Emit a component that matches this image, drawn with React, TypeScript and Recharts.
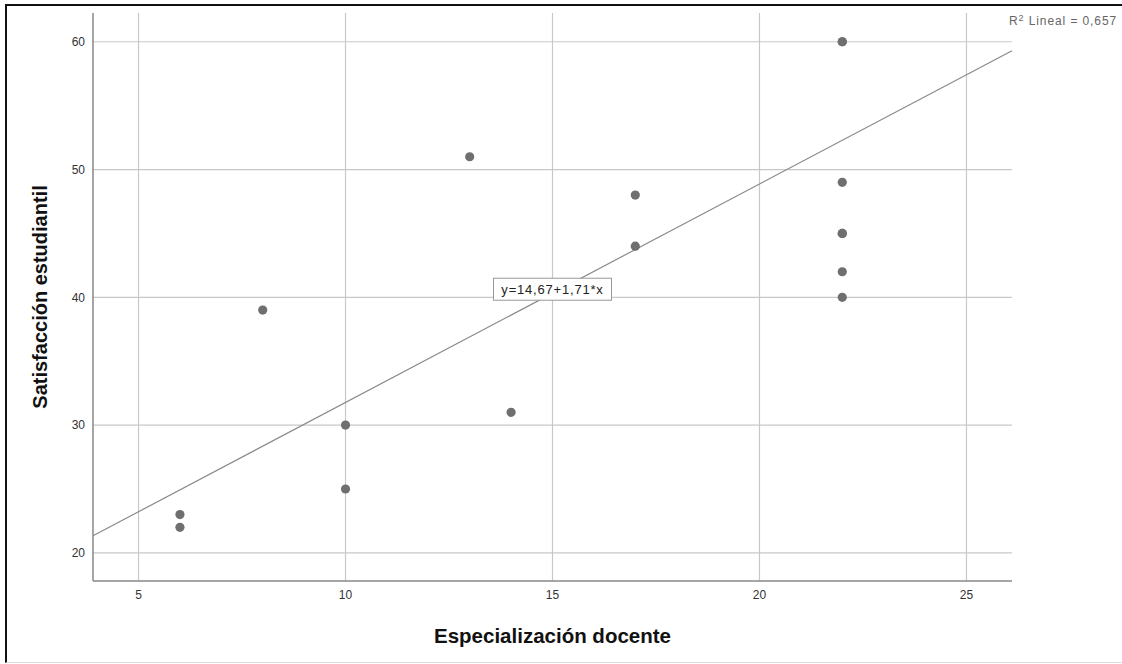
import React from 'react'
import {
  ScatterChart,
  Scatter,
  XAxis,
  YAxis,
  ReferenceLine,
  ReferenceDot,
  Label,
} from 'recharts'

// Especialización docente (x) vs Satisfacción estudiantil (y)
const especializacion = [6, 6, 8, 10, 10, 13, 14, 17, 17, 22, 22, 22, 22, 22, 22, 22]
const satisfaccion = [23, 22, 39, 30, 25, 51, 31, 48, 44, 60, 60, 49, 45, 45, 42, 40]

const xTicks = [5, 10, 15, 20, 25]
const yTicks = [20, 30, 40, 50, 60]

const X_MIN = 3.9
const X_MAX = 26.1
const Y_MIN = 17.8
const Y_MAX = 62.25

// linear fit reported by SPSS
const INTERCEPT = 14.67
const SLOPE = 1.71
const fitLabel = 'y=14,67+1,71*x'
const r2Value = '0,657'

const fit = (x: number) => INTERCEPT + SLOPE * x

const points = especializacion.map((x, i) => ({ x, y: satisfaccion[i] }))

const FONT = '"Liberation Sans", Arial, sans-serif'
const GRID = '#c8c8c8'

const Dot = (props: any) => (
  <circle cx={props.cx} cy={props.cy} r={4.6} fill="#6f6f6f" />
)

const FitBox = (props: any) => {
  const w = 118
  const h = 22
  const cy = props.cy - 4
  return (
    <g>
      <rect
        x={props.cx - w / 2}
        y={cy - h / 2}
        width={w}
        height={h}
        fill="#fff"
        stroke="#999"
        strokeWidth={1}
      />
      <text
        x={props.cx}
        y={cy + 4.5}
        textAnchor="middle"
        fontSize={13}
        letterSpacing={0.8}
        fill="#222"
        fontFamily={FONT}
      >
        {fitLabel}
      </text>
    </g>
  )
}

export default function App() {
  return (
    <div
      style={{
        position: 'absolute',
        left: 0,
        top: 0,
        width: 1122,
        height: 664,
        background: '#fff',
        overflow: 'hidden',
        fontFamily: FONT,
      }}
    >
      <div
        style={{
          position: 'absolute',
          left: 5,
          top: 4,
          width: 1130,
          height: 656,
          borderLeft: '2px solid #111',
          borderTop: '2px solid #111',
          borderBottom: '1px solid #ddd',
        }}
      />
      <div style={{ position: 'absolute', left: 0, top: 0 }}>
        <ScatterChart
          width={1122}
          height={664}
          margin={{ top: 13, right: 110, bottom: 0, left: 0 }}
        >
          {xTicks.map((t) => (
            <ReferenceLine key={'vx' + t} x={t} stroke={GRID} strokeWidth={1.2} />
          ))}
          {yTicks.map((t) => (
            <ReferenceLine key={'hy' + t} y={t} stroke={GRID} strokeWidth={1.2} />
          ))}
          <XAxis
            type="number"
            dataKey="x"
            domain={[X_MIN, X_MAX]}
            ticks={xTicks}
            allowDataOverflow
            height={83}
            tickLine={false}
            tickMargin={3}
            axisLine={{ stroke: '#888', strokeWidth: 1.5 }}
            tick={{ fill: '#333', fontSize: 12, fontFamily: FONT }}
          >
            <Label
              content={(p: any) => {
                const vb = p.viewBox
                return (
                  <text
                    x={vb.x + vb.width / 2}
                    y={vb.y + 62}
                    textAnchor="middle"
                    fontSize={20.5}
                    fontWeight="bold"
                    fill="#111"
                    fontFamily={FONT}
                  >
                    Especialización docente
                  </text>
                )
              }}
            />
          </XAxis>
          <YAxis
            type="number"
            dataKey="y"
            domain={[Y_MIN, Y_MAX]}
            ticks={yTicks}
            allowDataOverflow
            width={93}
            tickLine={false}
            tickMargin={2}
            axisLine={{ stroke: '#888', strokeWidth: 1.5 }}
            tick={{ fill: '#333', fontSize: 12, fontFamily: FONT }}
          >
            <Label
              content={(p: any) => {
                const vb = p.viewBox
                const cx = vb.x + 47
                const cy = vb.y + vb.height / 2
                return (
                  <text
                    x={cx}
                    y={cy}
                    transform={`rotate(-90, ${cx}, ${cy})`}
                    textAnchor="middle"
                    fontSize={20}
                    fontWeight="bold"
                    fill="#111"
                    fontFamily={FONT}
                  >
                    Satisfacción estudiantil
                  </text>
                )
              }}
            />
          </YAxis>
          <ReferenceLine
            segment={[
              { x: X_MIN, y: fit(X_MIN) },
              { x: X_MAX, y: fit(X_MAX) },
            ]}
            stroke="#8a8a8a"
            strokeWidth={1.2}
          />
          <Scatter
            data={points}
            shape={Dot}
            isAnimationActive={false}
          />
          <ReferenceDot x={15} y={fit(15)} r={0} shape={FitBox} />
        </ScatterChart>
      </div>
      <div
        style={{
          position: 'absolute',
          left: 1009,
          top: 11,
          fontSize: 12,
          color: '#666',
          letterSpacing: 0.9,
          whiteSpace: 'nowrap',
          lineHeight: '15px',
        }}
      >
        R<sup style={{ fontSize: 9, verticalAlign: 4 }}>2</sup> Lineal = {r2Value}
      </div>
    </div>
  )
}
